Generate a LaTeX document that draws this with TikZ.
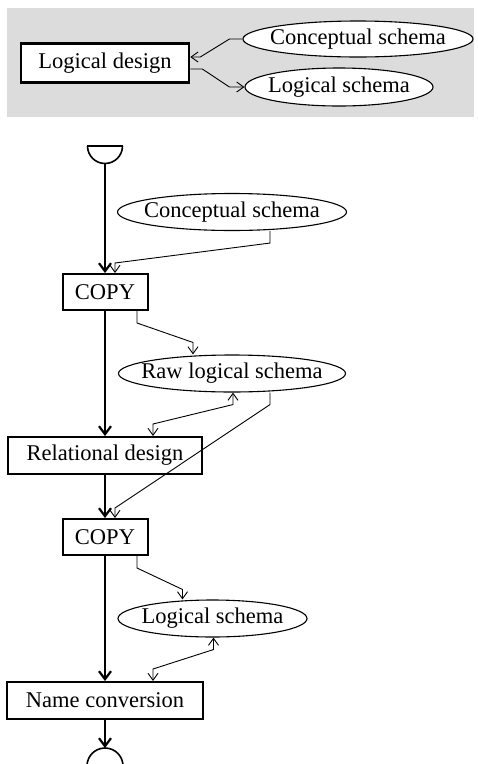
\documentclass[tikz,border=0pt]{standalone}
\usepackage{fontspec}
\setmainfont{Liberation Serif}
\usetikzlibrary{shapes.geometric,arrows.meta}
\definecolor{panel}{HTML}{DCDCDC}
\newcommand{\eltext}[1]{\makebox[0pt]{#1}}
\tikzset{
  txt/.style={font=\fontsize{22.5}{27}\selectfont},
  procbox/.style={draw, rectangle, line width=2pt, fill=white, inner sep=0pt, txt},
  datael/.style={draw, ellipse, line width=1.1pt, fill=white, inner sep=0pt, txt},
  thinarrow/.style={line width=0.9pt, -{Straight Barb[length=7pt,width=10pt,line width=0.9pt]}},
  thinboth/.style={line width=0.9pt, {Straight Barb[length=7pt,width=10pt,line width=0.9pt]}-{Straight Barb[length=7pt,width=10pt,line width=0.9pt]}},
  thickarrow/.style={line width=2.6pt, -{Straight Barb[length=8pt,width=12pt,line width=2.2pt]}},
}
\begin{document}
\begin{tikzpicture}[x=1pt,y=-1pt]
\useasboundingbox (0,0) rectangle (478,764);
% top legend panel
\fill[panel] (7,8) rectangle (474,117);
\node[procbox, line width=2.6pt, minimum width=168pt, minimum height=39pt] (ld) at (105,63) {Logical design};
\node[datael, minimum width=230pt, minimum height=36pt] (cs1) at (358,39) {\eltext{Conceptual schema}};
\node[datael, minimum width=188pt, minimum height=38pt] (ls1) at (339,87) {\eltext{Logical schema}};
\draw[thinarrow] (cs1.west) -- ++(-13,0) -- ([xshift=10pt,yshift=6pt]ld.east) -- ([yshift=6pt]ld.east);
\draw[thinarrow] ([yshift=-6pt]ld.east) -- ++(12,0) -- ([xshift=-15pt]ls1.west) -- (ls1.west);

% main flow
\draw[line width=2.6pt] (87,146) -- (123,146);
\draw[line width=1.6pt] (87.5,146) arc[start angle=180, end angle=0, radius=17.5];
\coordinate (st) at (105,163.5);
\node[procbox, minimum width=85pt, minimum height=36pt] (cp1) at (105,292) {COPY};
\node[datael, minimum width=229pt, minimum height=37pt] (cs2) at (232,212) {\eltext{Conceptual schema}};
\node[datael, minimum width=227pt, minimum height=37pt] (rls) at (232,373.5) {\eltext{Raw logical schema}};
\node[procbox, minimum width=194pt, minimum height=37pt] (rd) at (105,455.5) {Relational design};
\node[procbox, minimum width=85pt, minimum height=36pt] (cp2) at (105,537) {COPY};
\node[datael, minimum width=189pt, minimum height=37pt] (ls2) at (212.5,618.5) {\eltext{Logical schema}};
\node[procbox, minimum width=196pt, minimum height=37pt] (nc) at (105,700.5) {Name conversion};
\coordinate (en) at (105,748);
\draw[line width=1.6pt] (87,766) arc[start angle=180, end angle=360, radius=18];

\draw[thickarrow] (st) -- (cp1.north);
\draw[thickarrow] (cp1.south) -- (rd.north);
\draw[thickarrow] (rd.south) -- (cp2.north);
\draw[thickarrow] (cp2.south) -- (nc.north);
\draw[thickarrow] (nc.south) -- (en);

\draw[thinarrow] ([xshift=38pt]cs2.south) -- ++(0,12) -- ([xshift=10pt,yshift=10pt]cp1.north) -- ([xshift=10pt]cp1.north);
\draw[thinarrow] ([xshift=32pt]cp1.south) -- ++(0,12) -- ([xshift=-39pt,yshift=12pt]rls.north) -- ([xshift=-39pt]rls.north);
\draw[thinboth] ([xshift=1pt]rls.south) -- ++(0,12) -- ([xshift=48pt,yshift=12pt]rd.north) -- ([xshift=48pt]rd.north);
\draw[thinarrow] ([xshift=38pt]rls.south) -- ++(0,12) -- ([xshift=10pt,yshift=10pt]cp2.north) -- ([xshift=10pt]cp2.north);
\draw[thinarrow] ([xshift=32pt]cp2.south) -- ++(0,12) -- ([xshift=-30pt,yshift=10pt]ls2.north) -- ([xshift=-30pt]ls2.north);
\draw[thinboth] ([xshift=1pt]ls2.south) -- ++(0,12) -- ([xshift=48pt,yshift=12pt]nc.north) -- ([xshift=48pt]nc.north);
\end{tikzpicture}
\end{document}
